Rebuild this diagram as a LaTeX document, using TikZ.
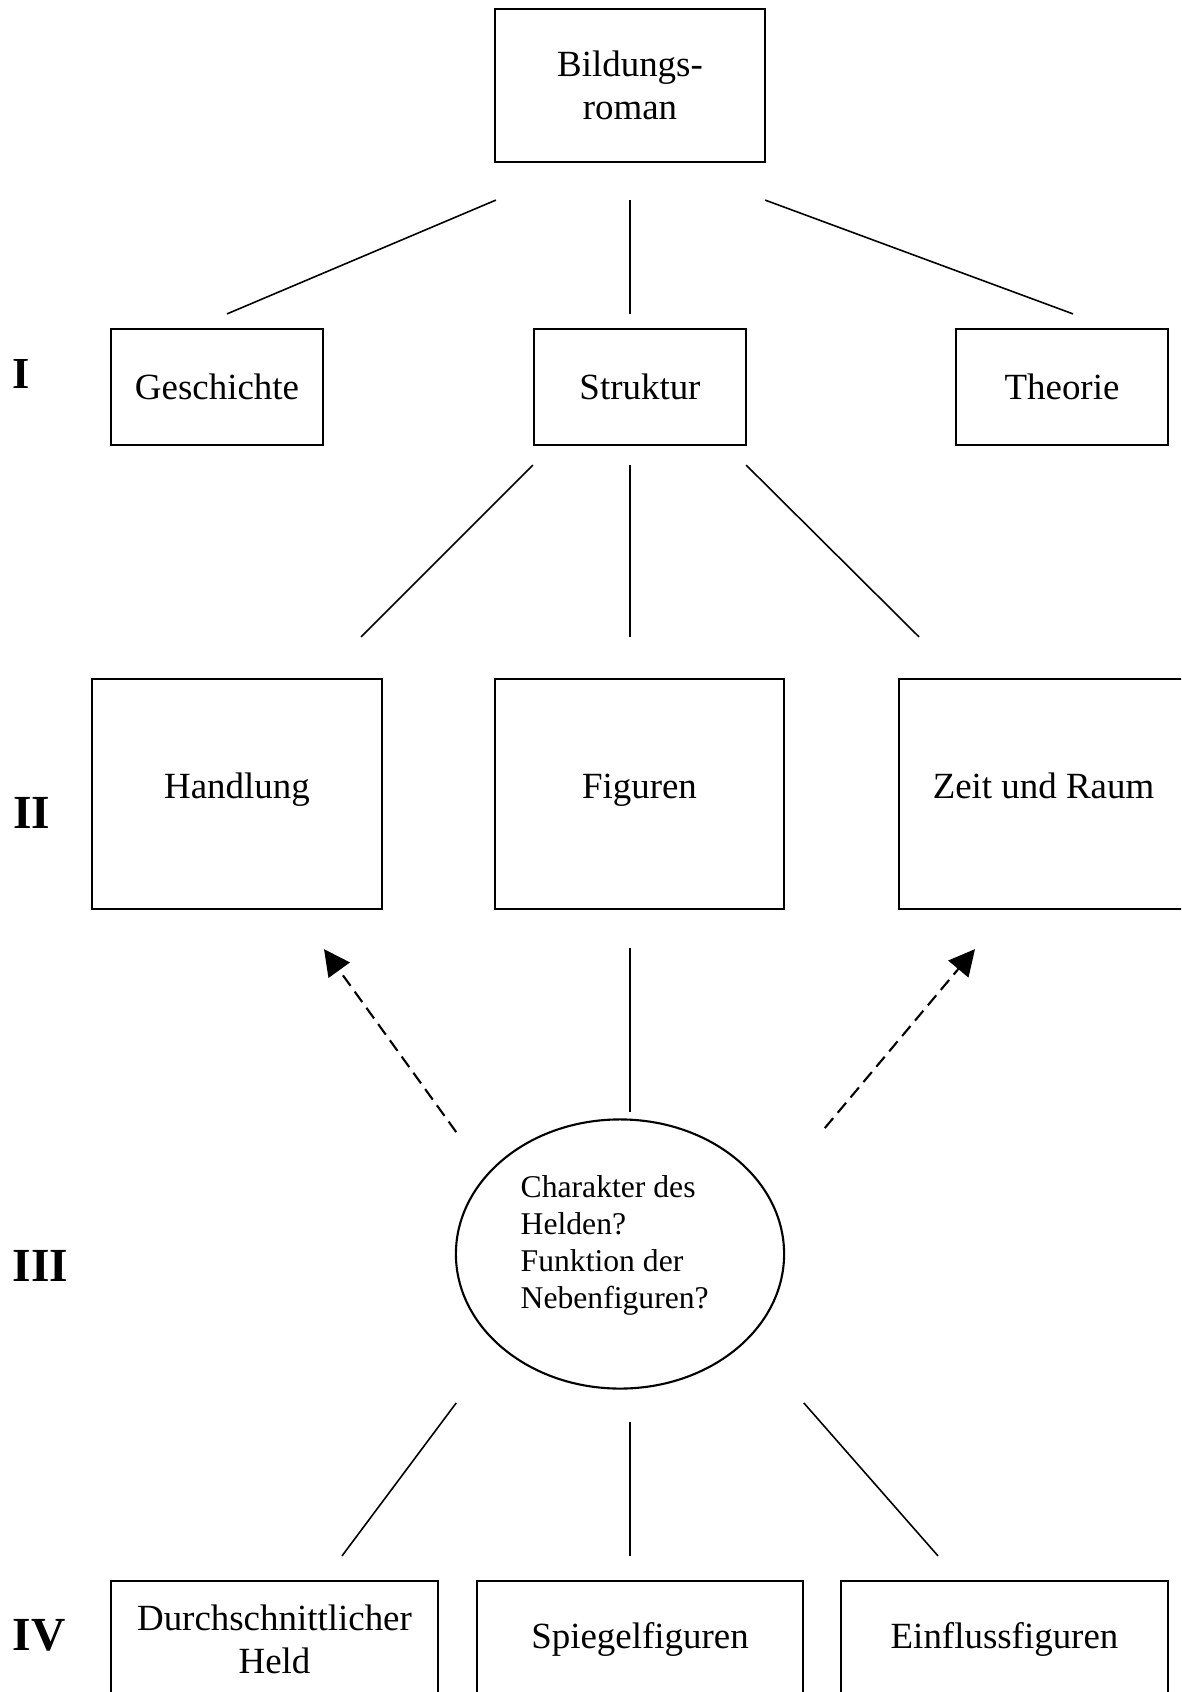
\documentclass[tikz,border=0pt]{standalone}
\usepackage{fontspec}
\setmainfont{Liberation Serif}
\usepackage{tikz}
\usetikzlibrary{shapes,arrows.meta,calc}
\tikzset{
  every node/.style={
    font=\fontsize{10.5}{12.2}\selectfont
  },
  topic/.style n args={2}{
    shape=rectangle,
    draw=black,
    line width=0.6pt,
    minimum width=#1,
    minimum height=#2,
    inner sep=0pt,
    align=center
  },
  wide topic/.style={
    text height=7.5pt,
    text depth=5.2pt
  },
  question/.style={
    shape=ellipse,
    draw=black,
    line width=0.6pt,
    minimum width=3.28cm,
    minimum height=2.69cm,
    inner sep=0pt
  },
  question text/.style={
    anchor=north west,
    inner sep=0pt,
    align=left,
    font=\fontsize{9}{10.5}\selectfont
  },
  tier/.style={
    font=\fontsize{13.5}{16}\selectfont\bfseries
  },
  link/.style={
    line width=0.45pt
  },
  cue/.style={
    line width=0.6pt,
    dash pattern=on 3.7pt off 2pt,
    -{Triangle[length=0.26cm,width=0.26cm]}
  }
}

\begin{document}
\begin{tikzpicture}[x=0.01cm,y=-0.01cm]

\path [use as bounding box,clip] (0,0) rectangle (1181,1692);

\node [topic={2.70cm}{1.53cm}] (roman) at (630,85.5) {Bildungs-\\roman};

% I
\node [tier,font=\fontsize{12.6}{14}\selectfont\bfseries] (tierI) at (21,374) {I};
\node [topic={2.12cm}{1.16cm}] (gesch) at (217,387) {Geschichte};
\node [topic={2.12cm}{1.16cm}] (struk) at (640,387) {Struktur};
\node [topic={2.12cm}{1.16cm}] (theo) at (1062,387) {Theorie};

% II
\node [tier] (tierII) at (31.5,812.5) {II};
\node [topic={2.89cm}{2.30cm},wide topic] (handl) at (237,794) {Handlung};
\node [topic={2.89cm}{2.30cm},wide topic] (figur) at (639.5,794) {Figuren};
\node [topic={2.89cm}{2.30cm},wide topic] (zeit) at (1043.5,794) {Zeit und Raum};

% III
\node [tier] (tierIII) at (40.5,1266) {III};
\node [question] (charakter) at (620,1254) {};
\node [question text] (frage) at (520,1175) {Charakter des\\Helden?\\Funktion der\\Nebenfiguren?};

% IV
\node [tier] (tierIV) at (39,1635) {IV};
\node [topic={3.27cm}{1.16cm}] (durch) at (274.5,1639) {Durchschnittlicher\\Held};
\node [topic={3.26cm}{1.16cm}] (spiegel) at (640,1639) {Spiegelfiguren};
\node [topic={3.27cm}{1.16cm}] (einfl) at (1004.5,1639) {Einflussfiguren};

\draw [link] ($(roman.south west)+(2,37)$) -- ($(gesch.north)+(10,-14)$);
\draw [link] ($(roman.south)+(0,37)$) -- ($(struk.north)+(-10,-14)$);
\draw [link] ($(roman.south east)+(-1,37)$) -- ($(theo.north)+(11,-14)$);

\draw [link] ($(struk.south west)+(0,19)$) -- ($(handl.north)+(124,-41)$);
\draw [link] ($(struk.south)+(-10,19)$) -- ($(figur.north)+(-9.5,-41)$);
\draw [link] ($(struk.south east)+(-1,19)$) -- ($(zeit.north)+(-124.5,-41)$);

\draw [link] ($(figur.south)+(-9.5,38)$) -- ($(charakter.north)+(10,-6.5)$);
\draw [cue] ($(charakter.north west)+(-47,-26)$) -- ($(handl.south)+(87,39)$);
\draw [cue] ($(charakter.north east)+(88,-30)$) -- ($(zeit.south)+(-68.5,39)$);

\draw [link] ($(charakter.south west)+(-47,53)$) -- ($(durch.north)+(67.5,-24)$);
\draw [link] ($(charakter.south)+(10,32.5)$) -- ($(spiegel.north)+(-10,-24)$);
\draw [link] ($(charakter.south east)+(67,53)$) -- ($(einfl.north)+(-66.5,-24)$);

\end{tikzpicture}
\end{document}
